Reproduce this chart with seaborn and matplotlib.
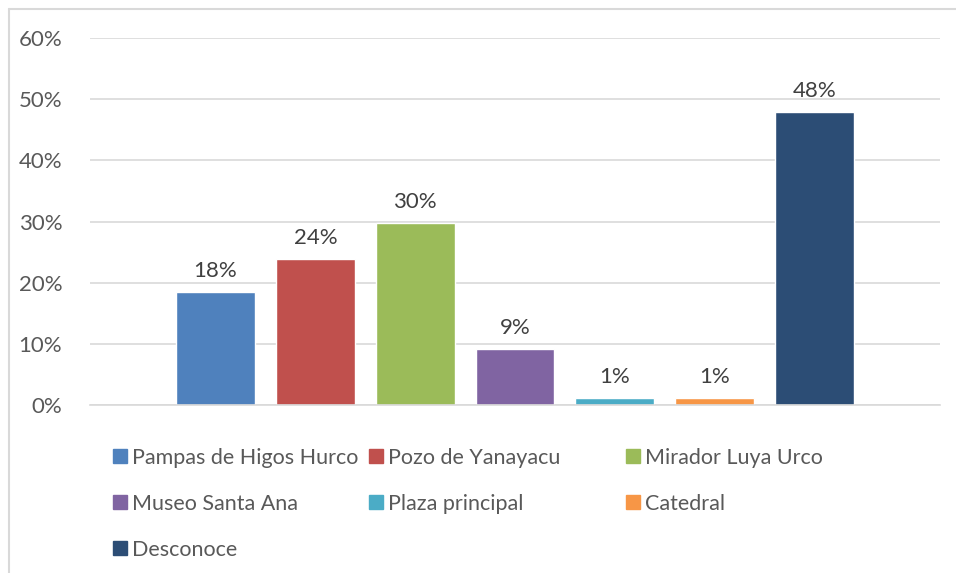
import pandas as pd
import matplotlib.pyplot as plt
import seaborn as sns
from matplotlib.lines import Line2D
from matplotlib.ticker import PercentFormatter

sitios = ['Pampas de Higos Hurco', 'Pozo de Yanayacu', 'Mirador Luya Urco',
          'Museo Santa Ana', 'Plaza principal', 'Catedral', 'Desconoce']
valores = [18.4, 23.9, 29.7, 9.2, 1.1, 1.1, 47.9]
etiquetas = ['18%', '24%', '30%', '9%', '1%', '1%', '48%']
colores = ['#4F81BD', '#C0504D', '#9BBB59', '#8064A2', '#4BACC6', '#F79646', '#2C4D75']

sns.set_theme(style="white")
plt.rcParams['font.family'] = ['Lato', 'DejaVu Sans']
gris = '#595959'

df = pd.DataFrame({'grupo': [''] * len(sitios), 'sitio': sitios, 'valor': valores})

fig = plt.figure(figsize=(9.56, 5.73), dpi=100)
ax = fig.add_axes([90 / 956, 1 - 405 / 573, 850 / 956, 367 / 573])

sns.barplot(data=df, x='grupo', y='valor', hue='sitio', hue_order=sitios,
            palette=colores, width=0.822, gap=0.21, saturation=1, ax=ax, legend=False)

for cont, txt in zip(ax.containers, etiquetas):
    ax.bar_label(cont, labels=[txt], padding=8, fontsize=16, color='#404040')

ax.set_xlim(-0.5, 0.5)
ax.set_ylim(0, 60)
ax.set_yticks(range(0, 61, 10))
ax.yaxis.set_major_formatter(PercentFormatter(decimals=0))
ax.grid(axis='y', color='#D9D9D9', linewidth=1.2)
ax.set_axisbelow(True)
for s in ['top', 'right', 'left']:
    ax.spines[s].set_visible(False)
ax.spines['bottom'].set_color('#D9D9D9')
ax.spines['bottom'].set_linewidth(1.2)
ax.tick_params(axis='y', labelsize=16, labelcolor=gris, length=0, pad=20)
ax.tick_params(axis='x', length=0)
ax.set_xlabel('')
ax.set_ylabel('')
ax.set_xticklabels([])

# leyenda: 3 columnas de igual ancho, como en Excel
col_x = [111.5, 367.5, 624.5]
for c in range(3):
    idx = list(range(c, len(sitios), 3))
    handles = [Line2D([], [], marker='s', linestyle='', markersize=10,
                      markerfacecolor=colores[i], markeredgecolor=colores[i]) for i in idx]
    fig.legend(handles, [sitios[i] for i in idx], loc='upper left',
               bbox_to_anchor=(col_x[c] / 956, 1 - 448 / 573),
               ncol=1, frameon=False, fontsize=15.5, labelcolor=gris,
               handlelength=0.8, handletextpad=0.15, labelspacing=1.2,
               borderaxespad=0, borderpad=0)

# marco del gráfico
fig.add_artist(Line2D([8.5 / 956, 8.5 / 956], [0, 1 - 9 / 573], color='#D9D9D9', linewidth=1.5))
fig.add_artist(Line2D([8.5 / 956, 1], [1 - 9 / 573, 1 - 9 / 573], color='#D9D9D9', linewidth=1.5))

fig.savefig('out.png', dpi=100)
plt.close(fig)
